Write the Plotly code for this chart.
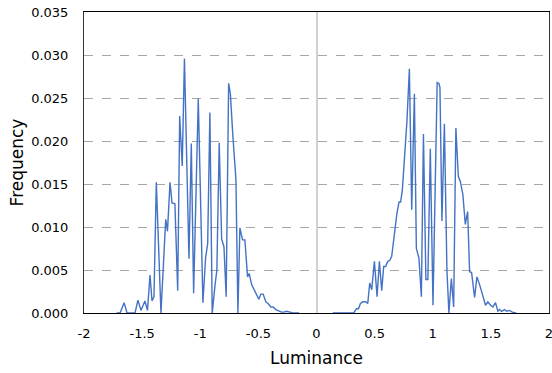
import plotly.graph_objects as go

# Left cluster (negative luminance)
x_left = [-1.72, -1.690, -1.655, -1.630, -1.561, -1.536, -1.510, -1.476, -1.454, -1.432,
          -1.415, -1.398, -1.378, -1.338, -1.297, -1.282, -1.260, -1.243, -1.218, -1.194,
          -1.177, -1.155, -1.136, -1.097, -1.077, -1.057, -1.017, -0.977, -0.954, -0.936,
          -0.917, -0.897, -0.874, -0.857, -0.837, -0.816, -0.796, -0.777, -0.756, -0.741,
          -0.719, -0.693, -0.676, -0.659, -0.636, -0.616, -0.593, -0.579, -0.558, -0.530,
          -0.496, -0.479, -0.459, -0.436, -0.416, -0.393, -0.373, -0.350, -0.330, -0.301,
          -0.281, -0.258, -0.229, -0.204, -0.15]
y_left = [0.0, 0.0, 0.0012, 0.0, 0.0, 0.0015, 0.0003, 0.0014, 0.0003, 0.0044,
          0.0014, 0.0019, 0.0152, 0.0, 0.0109, 0.0095, 0.0152, 0.0128, 0.0127, 0.0026,
          0.0229, 0.0171, 0.0296, 0.0063, 0.0197, 0.0023, 0.0249, 0.0012, 0.0064, 0.0081,
          0.0233, 0.0, 0.0031, 0.0050, 0.0198, 0.0086, 0.0077, 0.0019, 0.0267, 0.0255,
          0.0205, 0.0155, 0.0, 0.0099, 0.0085, 0.0085, 0.0042, 0.0046, 0.0033, 0.0025,
          0.0016, 0.0022, 0.0022, 0.0013, 0.0011, 0.0007, 0.0007, 0.0004, 0.0003, 0.0001,
          0.0001, 0.0002, 0.0001, 0.0, 0.0]

# Right cluster (positive luminance)
x_right = [0.140, 0.320, 0.344, 0.361, 0.378, 0.400, 0.424, 0.441, 0.458, 0.475,
           0.498, 0.521, 0.541, 0.561, 0.578, 0.595, 0.613, 0.630, 0.647, 0.664,
           0.692, 0.710, 0.724, 0.739, 0.767, 0.778, 0.799, 0.819, 0.842, 0.859,
           0.881, 0.902, 0.920, 0.941, 0.958, 0.979, 1.002, 1.038, 1.053, 1.062,
           1.079, 1.100, 1.122, 1.139, 1.160, 1.180, 1.199, 1.220, 1.237, 1.259,
           1.280, 1.300, 1.317, 1.334, 1.360, 1.380, 1.403, 1.426, 1.454, 1.474,
           1.497, 1.517, 1.540, 1.560, 1.575, 1.592, 1.618, 1.637, 1.661, 1.684,
           1.718]
y_right = [0.0, 0.0, 0.0005, 0.0005, 0.0011, 0.0013, 0.0013, 0.0011, 0.0035, 0.0027,
           0.0060, 0.0019, 0.0060, 0.0026, 0.0054, 0.0054, 0.0060, 0.0061, 0.0066, 0.0085,
           0.0116, 0.0129, 0.0129, 0.0144, 0.0206, 0.0223, 0.0284, 0.0120, 0.0255, 0.0075,
           0.0064, 0.0019, 0.0208, 0.0039, 0.0039, 0.0191, 0.0009, 0.0268, 0.0267, 0.0262,
           0.0107, 0.0220, 0.0050, 0.0, 0.0040, 0.0007, 0.0215, 0.0159, 0.0153, 0.0138,
           0.0103, 0.0118, 0.0048, 0.0047, 0.0018, 0.0042, 0.0033, 0.0023, 0.0009, 0.0013,
           0.0009, 0.0007, 0.0012, 0.0002, 0.0004, 0.0002, 0.0004, 0.0002, 0.0003, 0.0001,
           0.0]

x_ticks = [-2, -1.5, -1, -0.5, 0, 0.5, 1, 1.5, 2]
x_tick_text = ["-2", "-1.5", "-1", "-0.5", "0", "0.5", "1", "1.5", "2"]
y_ticks = [0.0, 0.005, 0.010, 0.015, 0.020, 0.025, 0.030, 0.035]

x_all = x_left + [None] + x_right
y_all = y_left + [None] + y_right

fig = go.Figure()
fig.add_trace(go.Scatter(x=x_all, y=y_all, mode="lines",
                         line=dict(color="#4472C4", width=1.4),
                         connectgaps=False, showlegend=False))

font_family = "DejaVu Sans, Verdana, sans-serif"
fig.update_layout(
    width=552, height=373,
    margin=dict(l=84, r=3, t=12, b=60),
    paper_bgcolor="white", plot_bgcolor="white",
    font=dict(family=font_family, size=13, color="#000000"),
    xaxis=dict(range=[-2, 2], tickvals=x_ticks, ticktext=x_tick_text,
               showgrid=False, zeroline=True, zerolinecolor="#d0d0d0", zerolinewidth=2,
               showline=True, linecolor="#000000", linewidth=1, mirror=True,
               ticks="", ticklabelstandoff=8, automargin=False,
               ticklabeloverflow="allow",
               title=dict(text="Luminance", font=dict(size=17), standoff=12)),
    yaxis=dict(range=[0, 0.035], tickvals=y_ticks, tickformat=".3f",
               showgrid=True, gridcolor="#a6a6a6", griddash="dash", gridwidth=1,
               zeroline=False,
               showline=True, linecolor="#333333", linewidth=1, mirror=True,
               ticks="", ticklabelstandoff=12, automargin=False,
               ticklabeloverflow="allow",
               title=dict(text="Frequency", font=dict(size=17), standoff=3)),
)

fig.write_html("out.html", config={"displayModeBar": False},
               post_script="document.body.style.margin='0';")
